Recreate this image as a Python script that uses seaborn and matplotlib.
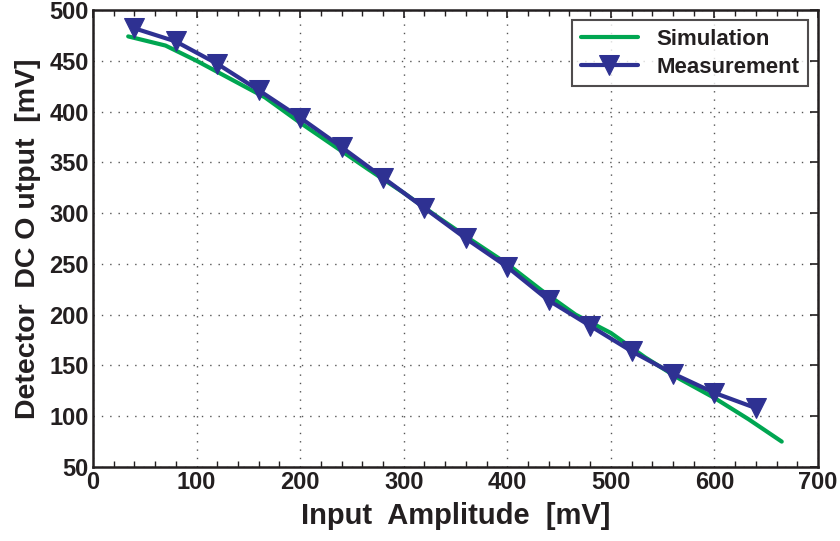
import matplotlib
matplotlib.use("Agg")
import matplotlib.pyplot as plt
import seaborn as sns
import pandas as pd
from matplotlib.ticker import MultipleLocator

sim_x = [34, 70, 100, 133, 166, 200, 233, 266, 300, 333, 366, 400, 433, 466, 500, 533, 566, 600, 633, 665]
sim_y = [474, 465, 450, 432, 414, 389, 366, 343, 320, 296, 273, 250, 224, 200, 182, 158, 137, 118, 97, 75]

meas_x = [40, 80, 120, 160, 200, 240, 280, 320, 360, 400, 440, 480, 520, 560, 600, 640]
meas_y = [482, 469, 447, 421, 394, 365, 335, 305, 275, 247, 214, 189, 164, 142, 123, 108]

x_ticks = [0, 100, 200, 300, 400, 500, 600, 700]
y_ticks = [50, 100, 150, 200, 250, 300, 350, 400, 450, 500]

sns.set_theme(style="white")
plt.rcParams['font.family'] = ['Liberation Sans Narrow', 'Liberation Sans', 'DejaVu Sans']
plt.rcParams['font.weight'] = 'bold'

fig = plt.figure(figsize=(8.4, 5.41), dpi=100)
ax = fig.add_axes([0.1107, 0.1368, 0.8631, 0.8447])

sim_df = pd.DataFrame({"x": sim_x, "y": sim_y})
meas_df = pd.DataFrame({"x": meas_x, "y": meas_y})

sns.lineplot(data=sim_df, x="x", y="y", ax=ax, color="#00a651", linewidth=3,
             label="Simulation", sort=False)
sns.lineplot(data=meas_df, x="x", y="y", ax=ax, color="#2e3192", linewidth=3,
             marker="v", markersize=14, markeredgecolor="#2e3192",
             label="Measurement", sort=False)

ax.set_xlim(0, 700)
ax.set_ylim(50, 500)
ax.set_xticks(x_ticks)
ax.set_yticks(y_ticks)
ax.xaxis.set_minor_locator(MultipleLocator(20))
ax.tick_params(axis='both', which='major', direction='in', length=6, width=1.2,
               top=True, right=True, labelsize=17, colors='#231f20', pad=3)
ax.tick_params(axis='x', which='minor', direction='in', length=4, width=1,
               top=True, bottom=True, colors='#231f20')
for lbl in ax.get_xticklabels() + ax.get_yticklabels():
    lbl.set_fontweight('bold')

ax.grid(True, which='major', linestyle=(0, (1, 5)), color='#555555', linewidth=1)
for s in ax.spines.values():
    s.set_color('#231f20')
    s.set_linewidth(1.8)

ax.set_xlabel("Input  Amplitude  [mV]", fontsize=21, fontweight='bold', color='#231f20', labelpad=6)
ax.set_ylabel("Detector  DC O utput  [mV]", fontsize=20.5, fontweight='bold', color='#231f20', labelpad=6)

leg = ax.legend(loc='upper right', fontsize=16, frameon=True, fancybox=False,
                edgecolor='#231f20', borderaxespad=0.45, handlelength=2.6,
                borderpad=0.4, labelspacing=0.3)
leg.get_frame().set_linewidth(1.5)
for t in leg.get_texts():
    t.set_fontweight('bold')
    t.set_color('#231f20')

fig.savefig("out.png", dpi=100)
